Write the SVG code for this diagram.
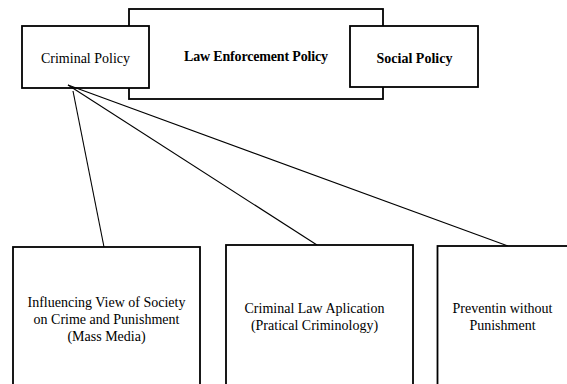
<svg xmlns="http://www.w3.org/2000/svg" width="567" height="384" viewBox="0 0 567 384">
<style>
.box{fill:#fff;stroke:#000;stroke-width:1.8}
.t{font-family:'Liberation Serif','DejaVu Serif',serif;font-size:14px;fill:#000;text-anchor:middle}
.b{font-weight:bold}
.c{stroke:#000;stroke-width:1.1;fill:none}
</style>
<rect width="567" height="384" fill="#fff"/>
<g id="law-enforcement-policy">
<rect class="box" x="129" y="9" width="254" height="90"/>
<text class="t b" x="256" y="61" textLength="144" font-family="Liberation Serif">Law Enforcement Policy</text>
</g>
<g id="criminal-policy">
<rect class="box" x="22" y="26" width="127" height="62"/>
<text class="t" x="85.5" y="63" font-family="Liberation Serif">Criminal Policy</text>
</g>
<g id="social-policy">
<rect class="box" x="350" y="26" width="128" height="61"/>
<text class="t b" x="414.5" y="63" font-family="Liberation Serif">Social Policy</text>
</g>
<g id="connectors">
<line class="c" x1="73" y1="91" x2="104" y2="247"/>
<line class="c" x1="68" y1="85" x2="317" y2="245"/>
<line class="c" x1="68" y1="85" x2="508" y2="246"/>
</g>
<g id="influencing-view">
<rect class="box" x="13" y="247" width="187" height="150"/>
<text class="t" x="106.5" y="307" font-family="Liberation Serif">Influencing View of Society</text>
<text class="t" x="106.5" y="324" font-family="Liberation Serif">on Crime and Punishment</text>
<text class="t" x="106.5" y="341" font-family="Liberation Serif">(Mass Media)</text>
</g>
<g id="criminal-law-application">
<rect class="box" x="226" y="245" width="187" height="150"/>
<text class="t" x="314.5" y="313" font-family="Liberation Serif">Criminal Law Aplication</text>
<text class="t" x="314.5" y="330" font-family="Liberation Serif">(Pratical Criminology)</text>
</g>
<g id="prevention-without-punishment">
<rect class="box" x="437.5" y="246" width="150" height="150"/>
<text class="t" x="502.5" y="313" font-family="Liberation Serif">Preventin without</text>
<text class="t" x="502.5" y="330" font-family="Liberation Serif">Punishment</text>
</g>
</svg>
